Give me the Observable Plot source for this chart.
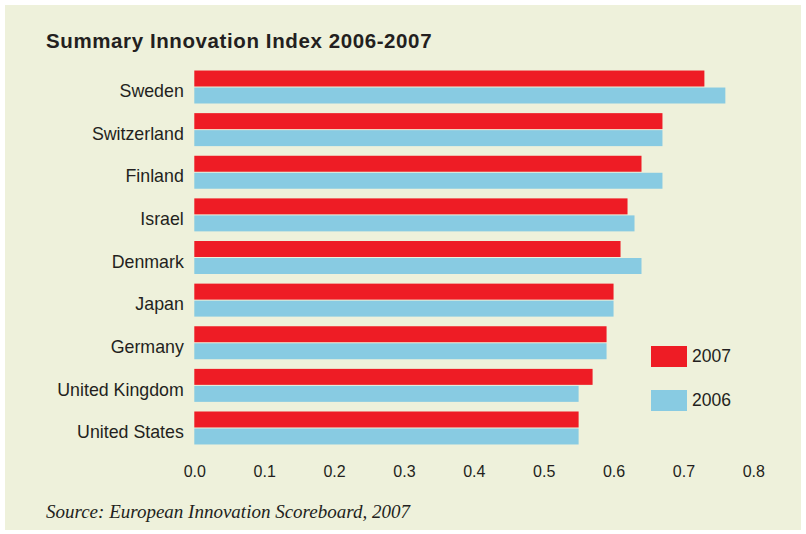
<!DOCTYPE html>
<html><head><meta charset="utf-8">
<script src="https://cdn.jsdelivr.net/npm/d3@7"></script>
<script src="https://cdn.jsdelivr.net/npm/@observablehq/plot@0.6"></script>
<style>
html,body{margin:0;padding:0;background:#fff;}
body{width:806px;height:534px;overflow:hidden;position:relative;font-family:"Liberation Sans",Arial,sans-serif;color:#231F20;}
#panel{position:absolute;left:5px;top:5px;width:796px;height:525px;background:#EEF1DB;}
#chart{position:absolute;left:0;top:0;}
#title{position:absolute;left:46px;top:31px;font-size:20.5px;line-height:1;font-weight:bold;letter-spacing:0.6px;white-space:nowrap;}
#caption{position:absolute;left:46px;top:502px;font-family:"Liberation Serif","Times New Roman",serif;font-style:italic;font-size:19px;line-height:1;white-space:nowrap;}
.lg{position:absolute;display:flex;align-items:center;font-size:17.5px;line-height:1;}
.sw{width:36px;height:21px;margin-right:5px;}
</style></head><body>
<div id="panel"></div>
<div id="chart"></div>
<div id="title">Summary Innovation Index 2006-2007</div>
<div id="legend"></div>
<div id="caption">Source: European Innovation Scoreboard, 2007</div>
<script>
const countries = ["Sweden","Switzerland","Finland","Israel","Denmark","Japan","Germany","United Kingdom","United States"];
const v2007 = [0.73,0.67,0.64,0.62,0.61,0.60,0.59,0.57,0.55];
const v2006 = [0.76,0.67,0.67,0.63,0.64,0.60,0.59,0.55,0.55];
const years = ["2007","2006"];
const colors = ["#EE1C25","#88CBE2"];
const xTicks = [0,0.1,0.2,0.3,0.4,0.5,0.6,0.7,0.8];

const data = countries.flatMap((c,i)=>[
  {country:c, year:years[0], value:v2007[i]},
  {country:c, year:years[1], value:v2006[i]}
]);

const hasAxisMarks = typeof Plot.axisX === "function";
const marks = [Plot.barX(data,{x:"value", y:"year", fy:"country", fill:"year"})];
const opts = {
  width:806, height:500,
  marginLeft:194.3, marginRight:52.7, marginTop:65.7, marginBottom:50.7,
  style:{background:"transparent", fontFamily:"'Liberation Sans', Arial, sans-serif", color:"#231F20", overflow:"visible"},
  x:{domain:[0,0.8]},
  y:{domain:years, paddingInner:0.06, paddingOuter:0.03, round:false, axis:null},
  fy:{domain:countries, paddingInner:0.2023, paddingOuter:0.1012, round:false, label:null},
  color:{domain:years, range:colors},
  facet:{label:null}
};
if (hasAxisMarks) {
  marks.push(Plot.axisX({ticks:xTicks, tickFormat:d3.format(".1f"), tickSize:0, tickPadding:20.5, fontSize:16, label:null}));
  marks.push(Plot.axisFy({anchor:"left", tickSize:0, tickPadding:11, dy:4, fontSize:17.8, label:null}));
} else {
  Object.assign(opts.x,{ticks:xTicks, tickFormat:d3.format(".1f"), tickSize:0, tickPadding:16, label:null});
  Object.assign(opts.fy,{axis:"left", tickSize:0, tickPadding:11});
}
opts.marks = marks;
document.getElementById("chart").append(Plot.plot(opts));

const lg = document.getElementById("legend");
const tops = [346, 390];
years.forEach((y,i)=>{
  const d = document.createElement("div");
  d.className="lg"; d.style.left="651px"; d.style.top=tops[i]+"px";
  d.innerHTML = `<div class="sw" style="background:${colors[i]}"></div><span>${y}</span>`;
  lg.append(d);
});
</script>
</body></html>
